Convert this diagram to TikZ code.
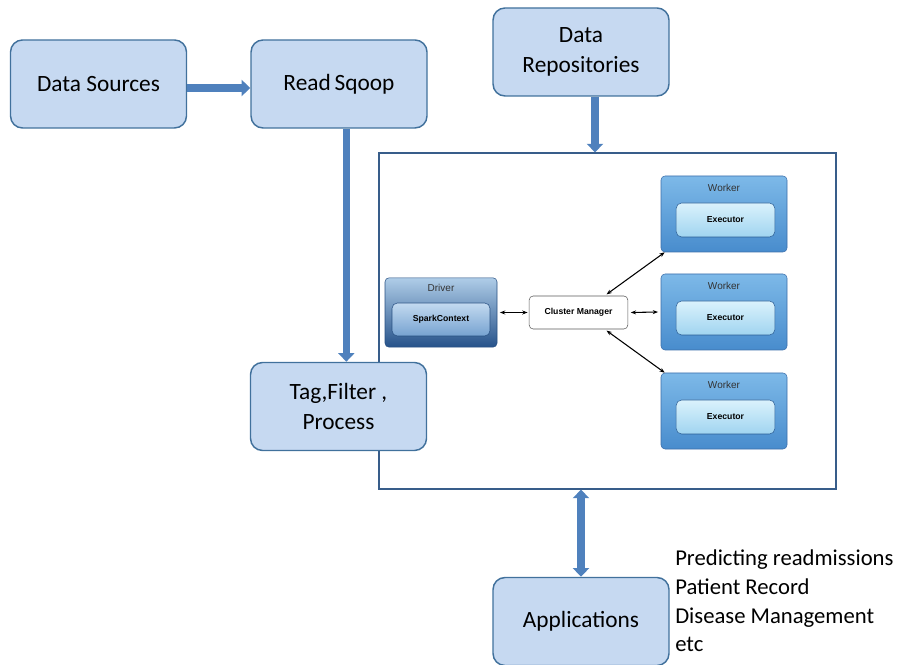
\documentclass[tikz,border=0pt]{standalone}
\usepackage{fontspec}
\setmainfont{Carlito}
\newfontfamily\sparkfont{Liberation Sans}
\usetikzlibrary{arrows.meta,positioning}
\definecolor{boxfill}{RGB}{198,217,241}
\definecolor{boxline}{RGB}{65,113,156}
\definecolor{flow}{RGB}{79,129,189}
\definecolor{frameline}{RGB}{56,93,138}
\tikzset{
  stage/.style={draw=boxline, line width=1.1pt, fill=boxfill, rounded corners=9pt,
    minimum width=132pt, minimum height=66pt, align=center, inner sep=2pt,
    font=\fontsize{17.5}{22.5}\selectfont},
  flowarrow/.style={draw=flow, line width=5.5pt, -{Triangle[length=6.5pt,width=12pt]}},
  both/.style={draw=flow, line width=5.5pt, {Triangle[length=6.5pt,width=12pt]}-{Triangle[length=6.5pt,width=12pt]}},
  worker/.style={draw={rgb,255:red,60;green,110;blue,170}, rounded corners=3pt,
    top color={rgb,255:red,125;green,185;blue,232}, bottom color={rgb,255:red,72;green,140;blue,205},
    minimum width=94.5pt, minimum height=57pt},
  executor/.style={draw={rgb,255:red,45;green,95;blue,150}, rounded corners=4pt,
    top color={rgb,255:red,218;green,242;blue,252}, bottom color={rgb,255:red,160;green,212;blue,240},
    minimum width=74pt, minimum height=25.5pt, font=\sparkfont\bfseries\fontsize{6.5}{8}\selectfont},
  driver/.style={draw={rgb,255:red,40;green,80;blue,130}, rounded corners=3pt,
    top color={rgb,255:red,175;green,205;blue,232}, bottom color={rgb,255:red,38;green,82;blue,138},
    minimum width=84pt, minimum height=52pt},
  context/.style={draw={rgb,255:red,40;green,80;blue,130}, rounded corners=4pt,
    top color={rgb,255:red,195;green,218;blue,240}, bottom color={rgb,255:red,118;green,162;blue,208},
    minimum width=73.5pt, minimum height=24.75pt, font=\sparkfont\bfseries\fontsize{6.5}{8}\selectfont},
  manager/.style={draw=black!65, fill=white, rounded corners=3pt,
    minimum width=74pt, minimum height=24.75pt, font=\sparkfont\bfseries\fontsize{6.5}{8}\selectfont},
  tag/.style={text=black!80, inner sep=0pt, font=\sparkfont\fontsize{7.5}{9}\selectfont},
  link/.style={line width=0.8pt, {Stealth[length=4pt]}-{Stealth[length=4pt]}}
}
\begin{document}
\begin{tikzpicture}[x=0.75pt,y=0.75pt]
  \useasboundingbox (0,0) rectangle (916,664);
  % cluster frame sits behind the pipeline boxes
  \node[draw=frameline, line width=0.8pt, minimum width=342.75pt, minimum height=252pt] (frame) at (607.5,343) {};
  % pipeline boxes
  \node[stage] (src) at (98.5,580) {Data Sources};
  \node[stage] (sqoop) at (339,580) {Read\,Sqoop};
  \node[stage] (repo) at (581,612) {Data\\Repositories};
  \node[stage] (tag) at (338.5,257.5) {Tag,Filter ,\\Process};
  \node[stage] (app) at (581,42.5) {Applications};
  \node[align=left, anchor=west, inner sep=0pt, font=\fontsize{17}{21.5}\selectfont] (uses) at (675,63)
    {Predicting readmissions\\Patient Record\\Disease Management\\etc};
  % spark cluster
  \node[driver] (drv) at (441,351.5) {};
  \node[tag] (drvlbl) at (441,376) {Driver};
  \node[context] (ctx) at (441,344.5) {SparkContext};
  \node[manager] (cm) at (578.5,351.5) {Cluster Manager};
  \foreach \i/\y in {1/450,2/352,3/253} {
    \node[worker] (w\i) at (724,\y) {};
    \node[tag] (wl\i) at (724,\y+26) {Worker};
    \node[executor] (e\i) at (725.5,\y-6) {Executor};
  }
  \draw[link] ([xshift=2pt]drv.east) -- ([xshift=-1pt]cm.west);
  \draw[link] ([xshift=2pt]cm.east) -- ([xshift=-2pt]w2.west);
  \draw[link] ([xshift=21pt,yshift=1pt]cm.north) -- ([xshift=3pt]w1.south west);
  \draw[link] ([xshift=21pt,yshift=-1pt]cm.south) -- ([xshift=3pt]w3.north west);
  % data flow
  \draw[flowarrow] ([yshift=-3pt]src.east) -- ([yshift=-3pt]sqoop.west);
  \draw[flowarrow] ([xshift=5.5pt]sqoop.south) -- ([xshift=5.5pt]sqoop.south |- tag.north);
  \draw[flowarrow] ([xshift=10.5pt]repo.south) -- ([xshift=10.5pt]repo.south |- frame.north);
  \draw[both] (app.north |- frame.south) -- (app.north);
\end{tikzpicture}
\end{document}
